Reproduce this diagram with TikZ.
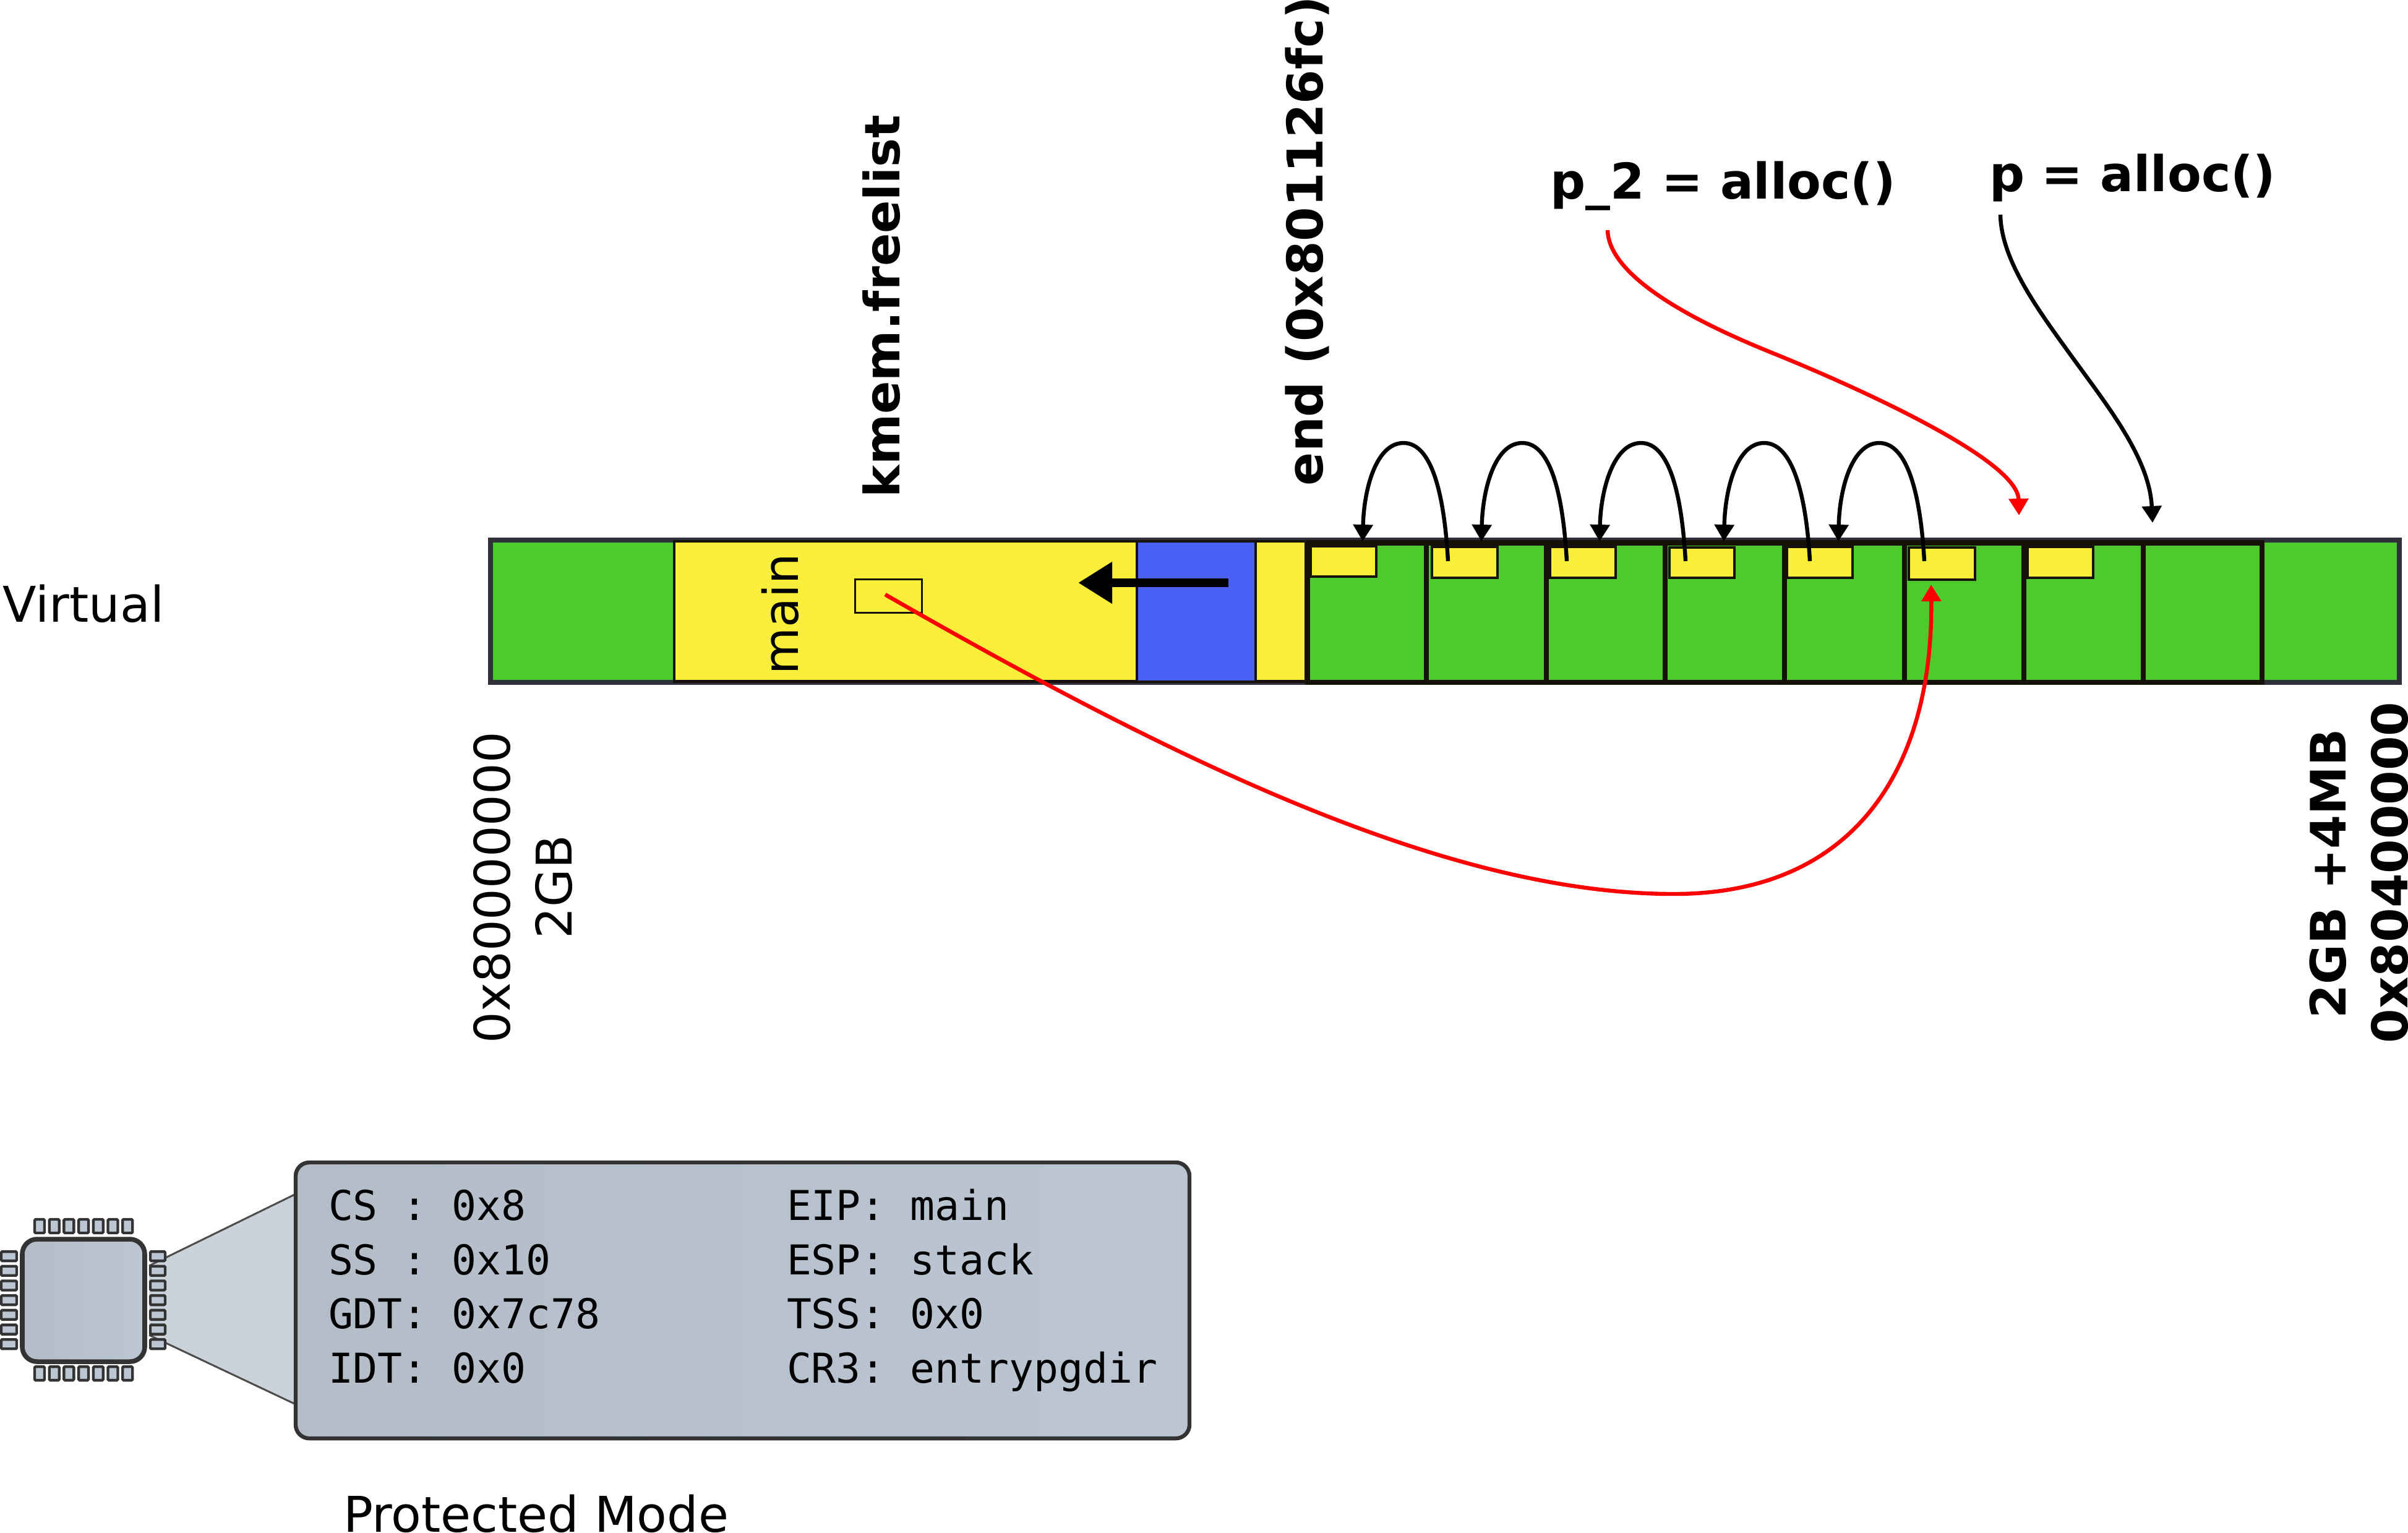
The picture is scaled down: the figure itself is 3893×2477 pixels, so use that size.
\documentclass[tikz,border=0pt]{standalone}
\usepackage{fontspec}
\setmainfont{DejaVu Sans}
\newfontfamily\monof{DejaVu Sans Mono}
\usetikzlibrary{arrows.meta}
\definecolor{barline}{HTML}{2E3138}
\definecolor{inkline}{HTML}{16120A}
\definecolor{pagegreen}{HTML}{4FCA2C}
\definecolor{memyellow}{HTML}{F9EE3A}
\definecolor{memblue}{HTML}{4A60F5}
\definecolor{chipL}{HTML}{B3BCC7}
\definecolor{chipR}{HTML}{BCC6D3}
\definecolor{callout}{HTML}{CBD2DA}
\definecolor{chipline}{HTML}{333333}
\tikzset{
  rectn/.style={rectangle,inner sep=0pt,outer sep=0pt},
  lbl/.style={inner sep=0pt,outer sep=0pt,anchor=base west,font=\fontsize{19.9}{24}\selectfont},
  lblb/.style={lbl,font=\fontsize{19.95}{24}\selectfont\bfseries},
  reg/.style={inner sep=0pt,outer sep=0pt,anchor=base west,font=\fontsize{16.6}{20}\selectfont\monof},
  barbox/.style={rectn,draw=barline,line width=2pt,fill=pagegreen},
  codebox/.style={rectn,draw=inkline,line width=1.15pt,fill=memyellow},
  bluebox/.style={rectn,draw=inkline,line width=0.9pt,fill=memblue},
  pagebox/.style={rectn,draw=inkline,line width=2.1pt,fill=pagegreen},
  hdrbox/.style={rectn,draw=inkline,line width=0.9pt,fill=memyellow},
  regbox/.style={rectn,draw=chipline,line width=1.6pt,rounded corners=5.5pt,left color=chipL,right color=chipR},
  chipbox/.style={rectn,draw=chipline,line width=1.9pt,rounded corners=6pt,left color=chipL,right color=chipR},
  chippin/.style={draw=chipline,line width=1.1pt,fill=chipR,rounded corners=0.4pt},
  link/.style={line width=1.6pt,-{Triangle[length=6.75pt,width=7.75pt]}},
  bigarrow/.style={line width=3.5pt,-{Triangle[length=13.75pt,width=16pt]}},
}
\newcommand{\boxat}[6]{% name, x1,y1,x2,y2, style
  \node[#6,minimum width={(#4-#2)*0.25pt},minimum height={(#5-#3)*0.25pt}] (#1) at ({(#2+#4)/2},{(#3+#5)/2}) {};}
\begin{document}
\begin{tikzpicture}[x=0.25pt,y=-0.25pt]
\useasboundingbox (0,0) rectangle (3893,2477);

% memory bar
\boxat{bar}{793}{873}{3879}{1103}{barbox}
\boxat{kernel}{1090}{875}{2111}{1101.5}{codebox}
\boxat{data}{1838}{875}{2030}{1101.5}{bluebox}

% pages
\boxat{pg1}{2114}{877.5}{2306}{1103}{pagebox}
\boxat{pg2}{2306}{877.5}{2500}{1103}{pagebox}
\boxat{pg3}{2500}{877.5}{2692}{1103}{pagebox}
\boxat{pg4}{2692}{877.5}{2885}{1103}{pagebox}
\boxat{pg5}{2885}{877.5}{3079}{1103}{pagebox}
\boxat{pg6}{3079}{877.5}{3272}{1103}{pagebox}
\boxat{pg7}{3272}{877.5}{3465}{1103}{pagebox}
\boxat{pg8}{3465}{877.5}{3657}{1103}{pagebox}

% page headers
\boxat{h1}{2119}{883}{2225}{932}{hdrbox}
\boxat{h2}{2315}{884}{2421}{934}{hdrbox}
\boxat{h3}{2506}{884}{2612}{934}{hdrbox}
\boxat{h4}{2699}{885}{2804}{934}{hdrbox}
\boxat{h5}{2889}{884}{2995}{934}{hdrbox}
\boxat{h6}{3086}{885}{3193}{937}{hdrbox}
\boxat{h7}{3278}{884}{3384}{934}{hdrbox}

% freelist head
\boxat{fl}{1382.5}{936.5}{1490.5}{990.5}{hdrbox}

% labels
\node[lbl] (virt) at (5,1005) {Virtual};
\node[lbl,rotate=90,font=\fontsize{19.5}{24}\selectfont] (mainl) at (1290,1090) {main};
\node[lblb,rotate=90,font=\fontsize{19.7}{24}\selectfont\bfseries] (kmem) at (1454,804) {kmem.freelist};
\node[lblb,rotate=90] (endl) at (2138,785) {end (0x801126fc)};
\node[lblb] (p2) at (2506,321) {p\_2 = alloc()};
\node[lblb] (p1) at (3216,309) {p = alloc()};
\node[lbl,rotate=90] (lo) at (824,1686) {0x80000000};
\node[lbl,rotate=90] (gb) at (924,1517) {2GB};
\node[lblb,rotate=90,font=\fontsize{19.75}{24}\selectfont\bfseries] (hi) at (3792,1646) {2GB +4MB};
\node[lblb,rotate=90] (hih) at (3892,1686) {0x80400000};
\node[lbl] (pm) at (555,2476) {Protected Mode};

% thick arrow
\coordinate (ta) at (1986,942);
\coordinate (tb) at (1743,942);
\draw[bigarrow] (ta) -- (tb);

% free-list chain
\foreach \sx/\px/\tx/\n in {2341/2269/2203/1,2533/2461/2395/2,2725/2653/2586/3,2926/2852/2787/4,3111/3038/2972/5}{
  \coordinate (s\n) at (\sx,907);
  \coordinate (k\n) at (\px,716);
  \coordinate (e\n) at (\tx,875);
  \draw[link] (s\n) .. controls ({\sx-6},800) and ({\px+46},716) .. (k\n)
                    .. controls ({\px-44},716) and ({\tx+2},790) .. (e\n);
}

% alloc arrows
\coordinate (p2s) at (2599,372);
\coordinate (p2m) at (2869,572);
\coordinate (p2e) at (3264,833);
\draw[link,red] (p2s) .. controls (2601,460) and (2790,540) .. (p2m)
                      .. controls (2979,616.5) and (3262,740) .. (p2e);
\coordinate (p1s) at (3234,347);
\coordinate (p1m) at (3347,573);
\coordinate (p1e) at (3480,845);
\draw[link] (p1s) .. controls (3235,420) and (3295,501) .. (p1m)
                  .. controls (3407,656) and (3475,740) .. (p1e);

% kmem.freelist to head
\coordinate (fs) at (1431,961);
\coordinate (fm) at (2706,1445);
\coordinate (fe) at (3122,945);
\draw[link,red] (fs) .. controls (1900,1230) and (2340,1445) .. (fm)
                     .. controls (3000,1445) and (3125,1240) .. (fe);

% callout
\fill[callout] (241,2046) -- (476,1931) -- (476,2269) -- (241,2158) -- cycle;
\draw[draw=black!70,line width=0.75pt] (241,2046) -- (476,1931);
\draw[draw=black!70,line width=0.75pt] (241,2158) -- (476,2269);

% chip
\foreach \i in {0,...,6}{
  \draw[chippin] ({56+23.7*\i},1971) rectangle ({72+23.7*\i},1993);
  \draw[chippin] ({56+23.7*\i},2209) rectangle ({72+23.7*\i},2231);
  \draw[chippin] (2,{2023+23.7*\i}) rectangle (27,{2038+23.7*\i});
  \draw[chippin] (243,{2023+23.7*\i}) rectangle (267,{2038+23.7*\i});
}
\boxat{chip}{36}{2003}{234}{2201}{chipbox}

% register box
\boxat{regs}{478}{1879}{1923}{2325}{regbox}
\node[reg] (r1) at (531,1972) {CS\ :\ 0x8};
\node[reg] (r2) at (531,2060) {SS\ :\ 0x10};
\node[reg] (r3) at (531,2147) {GDT:\ 0x7c78};
\node[reg] (r4) at (531,2235) {IDT:\ 0x0};
\node[reg] (r5) at (1272,1972) {EIP:\ main};
\node[reg] (r6) at (1272,2060) {ESP:\ stack};
\node[reg] (r7) at (1272,2147) {TSS:\ 0x0};
\node[reg] (r8) at (1272,2235) {CR3:\ entrypgdir};
\end{tikzpicture}
\end{document}
